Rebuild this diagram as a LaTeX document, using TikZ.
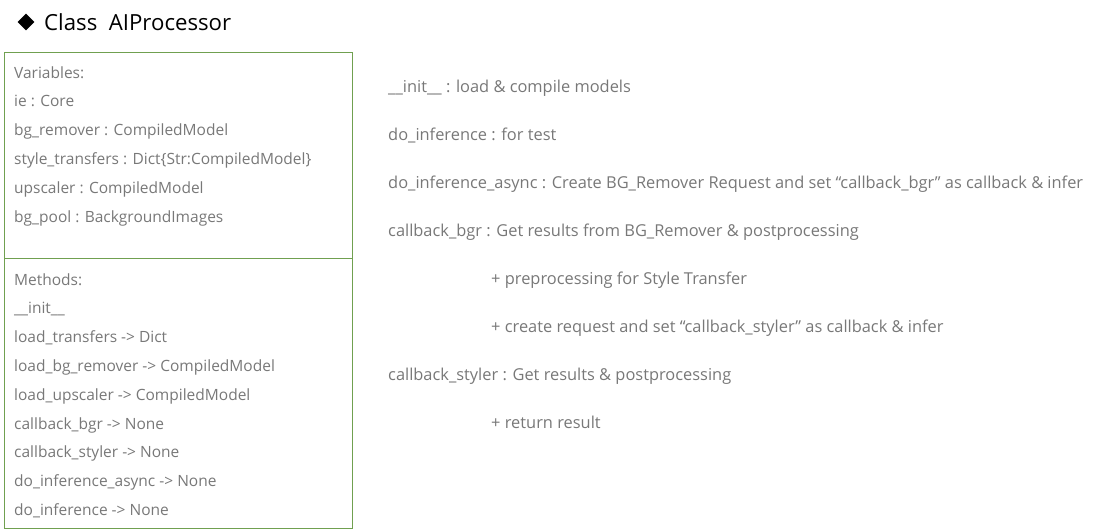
\documentclass[tikz,border=0pt]{standalone}
\usepackage{fontspec}
\setmainfont{Open Sans}
\usetikzlibrary{shapes.geometric}
\definecolor{boxgreen}{RGB}{112,160,80}
\definecolor{txtgray}{RGB}{120,120,120}
\tikzset{
  lefttxt/.style={anchor=base west, inner sep=0pt, text=txtgray, font=\fontsize{15.5}{18}\selectfont},
  righttxt/.style={anchor=base west, inner sep=0pt, text=txtgray, font=\fontsize{16.4}{18}\selectfont},
  boxline/.style={draw=boxgreen, line width=1pt}
}
\begin{document}
\begin{tikzpicture}[x=1pt,y=-1pt]
\useasboundingbox (0,0) rectangle (1110,530);
\node[diamond, fill=black, inner sep=0pt, minimum width=17pt, minimum height=17pt] (dia) at (26,22) {};
\node[anchor=base west, inner sep=0pt, font=\fontsize{22.2}{24}\selectfont] (title) at (44,30) {Class\ \ AIProcessor};
\node[boxline, minimum width=348pt, minimum height=206pt, anchor=north west, inner sep=0pt] (vars) at (4,52) {};
\node[boxline, minimum width=348pt, minimum height=270pt, anchor=north west, inner sep=0pt] (meths) at (4,258) {};
\node[lefttxt] (v0) at (14,78) {Variables:};
\node[lefttxt] (v1) at (14,106) {ie : Core};
\node[lefttxt] (v2) at (14,135) {bg\_remover : CompiledModel};
\node[lefttxt] (v3) at (14,164) {style\_transfers : Dict\{Str:CompiledModel\}};
\node[lefttxt] (v4) at (14,193) {upscaler : CompiledModel};
\node[lefttxt] (v5) at (14,222) {bg\_pool : BackgroundImages};
\node[lefttxt] (m0) at (14,285) {Methods:};
\node[lefttxt] (m1) at (14,313) {\_\_init\_\_};
\node[lefttxt] (m2) at (14,342) {load\_transfers -> Dict};
\node[lefttxt] (m3) at (14,371) {load\_bg\_remover -> CompiledModel};
\node[lefttxt] (m4) at (14,400) {load\_upscaler -> CompiledModel};
\node[lefttxt] (m5) at (14,429) {callback\_bgr -> None};
\node[lefttxt] (m6) at (14,457) {callback\_styler -> None};
\node[lefttxt] (m7) at (14,486) {do\_inference\_async -> None};
\node[lefttxt] (m8) at (14,515) {do\_inference -> None};
\node[righttxt] (r1) at (388,92) {\_\_init\_\_ : load \& compile models};
\node[righttxt] (r2) at (388,140) {do\_inference : for test};
\node[righttxt] (r3) at (388,188) {do\_inference\_async : Create BG\_Remover Request and set “callback\_bgr” as callback \& infer};
\node[righttxt] (r4) at (388,236) {callback\_bgr : Get results from BG\_Remover \& postprocessing};
\node[righttxt] (r5) at (491,284) {+ preprocessing for Style Transfer};
\node[righttxt] (r6) at (491,332) {+ create request and set “callback\_styler” as callback \& infer};
\node[righttxt] (r7) at (388,380) {callback\_styler : Get results \& postprocessing};
\node[righttxt] (r8) at (491,428) {+ return result};
\end{tikzpicture}
\end{document}
